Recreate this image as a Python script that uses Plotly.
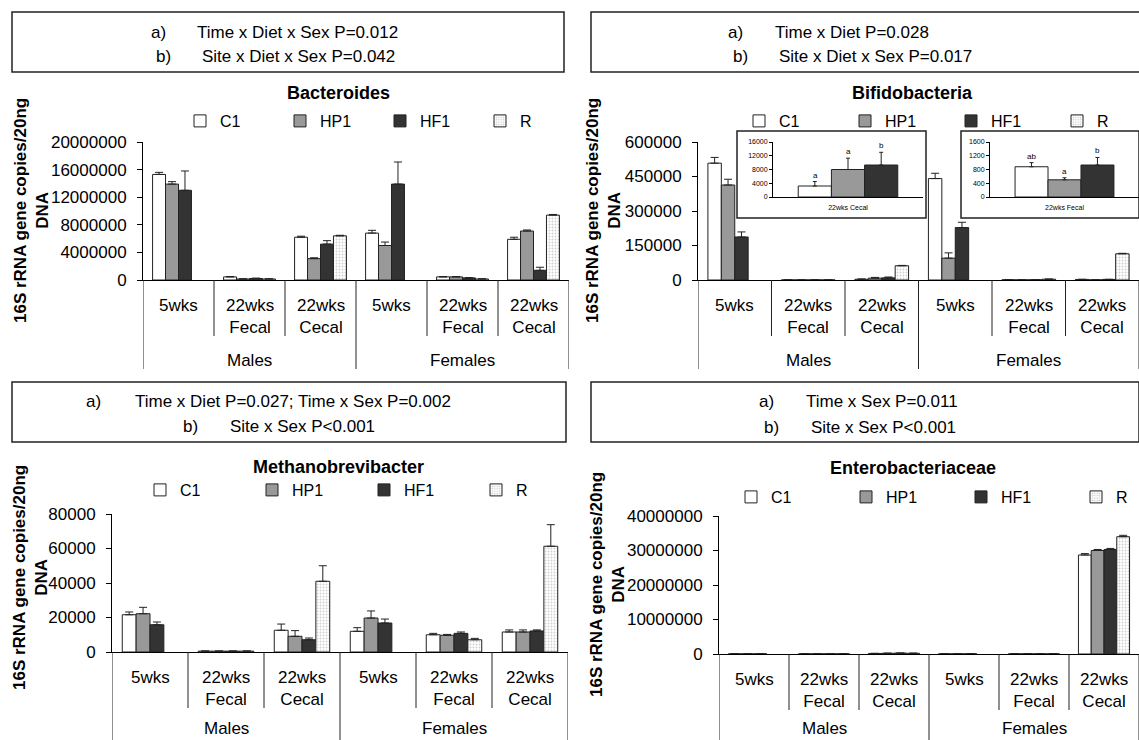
import plotly.graph_objects as go

W, H = 1139, 740
FONT = "Liberation Sans, Arial, sans-serif"

DIETS = ["C1", "HP1", "HF1", "R"]
SITES = ["5wks", "22wks<br>Fecal", "22wks<br>Cecal",
         "5wks", "22wks<br>Fecal", "22wks<br>Cecal"]
SEXES = ["Males", "Females"]

# 16S rRNA gene copies / 20 ng DNA, one value per site (males then females)
bact_c1 = [15300000, 450000, 6200000, 6800000, 450000, 5900000]
bact_hp1 = [13900000, 150000, 3100000, 5000000, 450000, 7100000]
bact_hf1 = [13000000, 220000, 5200000, 13900000, 300000, 1400000]
bact_r = [None, 150000, 6400000, None, 150000, 9400000]
bact_c1_se = [300000, 50000, 150000, 400000, 40000, 300000]
bact_hp1_se = [350000, 20000, 120000, 500000, 40000, 150000]
bact_hf1_se = [2800000, 50000, 500000, 3200000, 40000, 450000]
bact_r_se = [None, 20000, 80000, None, 20000, 100000]
bact_ticks = [0, 4000000, 8000000, 12000000, 16000000, 20000000]

bifi_c1 = [508000, 300, 3200, 441000, 880, 2500]
bifi_hp1 = [413000, 200, 8000, 95000, 500, 300]
bifi_hf1 = [187000, 300, 9300, 228000, 930, 2500]
bifi_r = [None, 300, 62000, None, 3500, 114000]
bifi_c1_se = [25000, 50, 1300, 23000, 120, 500]
bifi_hp1_se = [25000, 50, 3300, 23000, 60, 100]
bifi_hf1_se = [22000, 50, 3700, 23000, 220, 500]
bifi_r_se = [None, 50, 1500, None, 500, 2000]
bifi_ticks = [0, 150000, 300000, 450000, 600000]

meth_c1 = [21600, 500, 12600, 12000, 10000, 11600]
meth_hp1 = [22200, 500, 9100, 19700, 9700, 11600]
meth_hf1 = [15800, 500, 7100, 16800, 10800, 12200]
meth_r = [None, 500, 41000, None, 7100, 61300]
meth_c1_se = [1600, 100, 3600, 2100, 800, 1200]
meth_hp1_se = [3700, 100, 3300, 4100, 500, 1200]
meth_hf1_se = [1600, 100, 1000, 2300, 800, 600]
meth_r_se = [None, 100, 9000, None, 800, 12500]
meth_ticks = [0, 20000, 40000, 60000, 80000]

ent_c1 = [40000, 40000, 150000, 40000, 40000, 28700000]
ent_hp1 = [40000, 40000, 200000, 40000, 40000, 30000000]
ent_hf1 = [40000, 40000, 250000, 40000, 40000, 30300000]
ent_r = [None, 40000, 200000, None, 40000, 34000000]
ent_c1_se = [10000, 10000, 50000, 10000, 10000, 400000]
ent_hp1_se = [10000, 10000, 50000, 10000, 10000, 300000]
ent_hf1_se = [10000, 10000, 50000, 10000, 10000, 300000]
ent_r_se = [None, 10000, 50000, None, 10000, 400000]
ent_ticks = [0, 10000000, 20000000, 30000000, 40000000]

# Insets: Bifidobacteria 22wks cecal (males) and 22wks fecal (females), C1/HP1/HF1
INSET_DIETS = ["C1", "HP1", "HF1"]
inset_cecal_letters = ["a", "a", "b"]
inset_fecal_letters = ["ab", "a", "b"]
inset_cecal_ticks = [0, 4000, 8000, 12000, 16000]
inset_fecal_ticks = [0, 400, 800, 1200, 1600]

STYLE = {
    "C1": dict(color="white"),
    "HP1": dict(color="#999999"),
    "HF1": dict(color="#333333"),
    "R": dict(color="white", pattern=dict(shape=".", fgcolor="#a0a0a0",
                                          bgcolor="white", size=3, solidity=0.3)),
}


def px(x):
    return x / W


def py(y):
    return 1 - y / H


panels = [
    dict(title="Bacteroides",
         series=[bact_c1, bact_hp1, bact_hf1, bact_r],
         errors=[bact_c1_se, bact_hp1_se, bact_hf1_se, bact_r_se],
         ticks=bact_ticks,
         lines=[("a)", "Time x Diet x Sex P=0.012"), ("b)", "Site x Diet x Sex P=0.042")],
         plot=(143, 569, 142, 280), box=(12, 12, 564, 72), line_y=(32, 57),
         line_x=[(168, 195), (173, 200)],
         title_xy=(338, 93), legend=(121, 200, 100), ytitle=(32, 211),
         cat_top=294, short_sep=336, long_sep=369, sex_y=360),
    dict(title="Bifidobacteria",
         series=[bifi_c1, bifi_hp1, bifi_hf1, bifi_r],
         errors=[bifi_c1_se, bifi_hp1_se, bifi_hf1_se, bifi_r_se],
         ticks=bifi_ticks,
         lines=[("a)", "Time x Diet P=0.028"), ("b)", "Site x Diet x Sex P=0.017")],
         plot=(698, 1139, 142, 280), box=(591, 12, 1141, 72), line_y=(32, 57),
         line_x=[(745, 773), (750, 777)],
         title_xy=(912, 93), legend=(121, 759, 106), ytitle=(604, 211),
         cat_top=294, short_sep=336, long_sep=369, sex_y=360),
    dict(title="Methanobrevibacter",
         series=[meth_c1, meth_hp1, meth_hf1, meth_r],
         errors=[meth_c1_se, meth_hp1_se, meth_hf1_se, meth_r_se],
         ticks=meth_ticks,
         lines=[("a)", "Time x Diet P=0.027; Time x Sex P=0.002"), ("b)", "Site x Sex P<0.001")],
         plot=(112, 568, 514, 652), box=(12, 382, 566, 442), line_y=(401, 426),
         line_x=[(103, 133), (200, 228)],
         title_xy=(338, 467), legend=(490, 160, 112), ytitle=(30, 578),
         cat_top=666, short_sep=708, long_sep=740, sex_y=728),
    dict(title="Enterobacteriaceae",
         series=[ent_c1, ent_hp1, ent_hf1, ent_r],
         errors=[ent_c1_se, ent_hp1_se, ent_hf1_se, ent_r_se],
         ticks=ent_ticks,
         lines=[("a)", "Time x Sex P=0.011"), ("b)", "Site x Sex P<0.001")],
         plot=(719, 1139, 516, 654), box=(591, 382, 1139, 442), line_y=(401, 427),
         line_x=[(776, 804), (781, 809)],
         title_xy=(913, 468), legend=(497, 751, 115), ytitle=(607, 585),
         cat_top=668, short_sep=710, long_sep=740, sex_y=728),
]

fig = go.Figure()
layout = {}
annotations = []
shapes = []
OUTLINE = dict(color="#222222", width=1)
positions = list(range(len(SITES)))

for i, p in enumerate(panels, start=1):
    xa = "x" if i == 1 else f"x{i}"
    ya = "y" if i == 1 else f"y{i}"
    xkey = "xaxis" if i == 1 else f"xaxis{i}"
    ykey = "yaxis" if i == 1 else f"yaxis{i}"
    lkey = "legend" if i == 1 else f"legend{i}"
    x0, x1, ytop, ybot = p["plot"]
    ly, first_sq, step = p["legend"]

    for name, vals, errs in zip(DIETS, p["series"], p["errors"]):
        fig.add_trace(go.Bar(
            x=positions, y=vals, name=name, xaxis=xa, yaxis=ya, legend=lkey,
            legendwidth=(step - 45) if name != DIETS[-1] else 20,
            marker=dict(line=OUTLINE, **STYLE[name]),
            error_y=dict(type="data", symmetric=False, array=errs,
                         arrayminus=[0] * len(errs), color="#222222",
                         thickness=1, width=4),
        ))

    layout[xkey] = dict(domain=[px(x0), px(x1)], anchor=ya, range=[-0.5, len(SITES) - 0.5],
                        showline=True, linecolor="black", linewidth=1,
                        showticklabels=False, ticks="", showgrid=False, zeroline=False,
                        fixedrange=True)
    layout[ykey] = dict(domain=[py(ybot), py(ytop)], anchor=xa,
                        range=[0, p["ticks"][-1]], tickvals=p["ticks"],
                        ticktext=[str(t) for t in p["ticks"]],
                        showline=True, linecolor="black", linewidth=1,
                        ticks="outside", ticklen=5, tickcolor="black",
                        ticklabelstandoff=7,
                        tickfont=dict(size=17, family=FONT, color="black"),
                        showgrid=False, zeroline=False, fixedrange=True)
    layout[lkey] = dict(orientation="h", x=px(first_sq - 20), y=py(ly),
                        xanchor="left", yanchor="middle",
                        font=dict(size=16, family=FONT, color="black"),
                        bgcolor="rgba(0,0,0,0)", borderwidth=0,
                        traceorder="normal", itemclick=False, itemdoubleclick=False)

    # statistics box above each panel
    bx0, by0, bx1, by1 = p["box"]
    shapes.append(dict(type="rect", xref="paper", yref="paper",
                       x0=px(bx0), x1=px(bx1), y0=py(by0), y1=py(by1),
                       line=dict(color="#222222", width=1.5), fillcolor="rgba(0,0,0,0)"))
    for (lab, txt), yy, (lx, tx) in zip(p["lines"], p["line_y"], p["line_x"]):
        annotations.append(dict(text=lab, xref="paper", yref="paper", x=px(lx), y=py(yy),
                                xanchor="right", yanchor="middle", showarrow=False,
                                font=dict(size=17, family=FONT, color="black")))
        annotations.append(dict(text=txt, xref="paper", yref="paper", x=px(tx), y=py(yy),
                                xanchor="left", yanchor="middle", showarrow=False,
                                font=dict(size=17, family=FONT, color="black")))

    # panel title and y-axis title
    tx, tyy = p["title_xy"]
    annotations.append(dict(text=f"<b>{p['title']}</b>", xref="paper", yref="paper",
                            x=px(tx), y=py(tyy), xanchor="center", yanchor="middle",
                            showarrow=False, font=dict(size=18, family=FONT, color="black")))
    yx, yy = p["ytitle"]
    annotations.append(dict(text="<b>16S rRNA gene copies/20ng</b><br><b>DNA</b>",
                            xref="paper", yref="paper", x=px(yx), y=py(yy),
                            xanchor="center", yanchor="middle", textangle=-90,
                            showarrow=False, font=dict(size=17, family=FONT, color="black")))

    # category labels under the axis, and sex labels beneath
    for pos, lab in zip(positions, SITES):
        annotations.append(dict(text=lab, xref=xa, yref="paper", x=pos, y=py(p["cat_top"]),
                                xanchor="center", yanchor="top", showarrow=False,
                                font=dict(size=17, family=FONT, color="black")))
    half = len(SITES) // 2
    for k, sex in enumerate(SEXES):
        annotations.append(dict(text=sex, xref=xa, yref="paper",
                                x=(half - 1) / 2 + k * half, y=py(p["sex_y"]),
                                xanchor="center", yanchor="middle", showarrow=False,
                                font=dict(size=17, family=FONT, color="black")))
    for b in range(len(SITES) + 1):
        edge = b - 0.5
        long_line = b % half == 0
        shapes.append(dict(type="line", xref=xa, yref="paper", x0=edge, x1=edge,
                           y0=py(ybot), y1=py(p["long_sep"] if long_line else p["short_sep"]),
                           line=dict(color="#222222", width=1)))

# insets on the Bifidobacteria panel
insets = [
    dict(idx=2, label="22wks Cecal", letters=inset_cecal_letters, ticks=inset_cecal_ticks,
         plot=(773, 923, 142, 197), box=(737, 131, 926, 218)),
    dict(idx=4, label="22wks Fecal", letters=inset_fecal_letters, ticks=inset_fecal_ticks,
         plot=(990, 1139, 142, 197), box=(961, 131, 1139, 218)),
]
bifi_series = {"C1": (bifi_c1, bifi_c1_se), "HP1": (bifi_hp1, bifi_hp1_se),
               "HF1": (bifi_hf1, bifi_hf1_se)}
for j, ins in enumerate(insets, start=5):
    xa, ya = f"x{j}", f"y{j}"
    x0, x1, ytop, ybot = ins["plot"]
    bx0, by0, bx1, by1 = ins["box"]
    shapes.append(dict(type="rect", xref="paper", yref="paper", layer="below",
                       x0=px(bx0), x1=px(bx1), y0=py(by0), y1=py(by1),
                       line=dict(color="#222222", width=1.5), fillcolor="white"))
    for name, letter in zip(INSET_DIETS, ins["letters"]):
        vals, errs = bifi_series[name]
        v, e = vals[ins["idx"]], errs[ins["idx"]]
        fig.add_trace(go.Bar(
            x=[ins["label"]], y=[v], name=name, xaxis=xa, yaxis=ya, showlegend=False,
            marker=dict(line=OUTLINE, **STYLE[name]),
            error_y=dict(type="data", symmetric=False, array=[e], arrayminus=[0],
                         color="#222222", thickness=1, width=2),
        ))
    layout[f"xaxis{j}"] = dict(domain=[px(x0), px(x1)], anchor=ya, type="category",
                               range=[-0.55, 0.55], showline=True, linecolor="black",
                               ticks="", ticklabelstandoff=4,
                               tickfont=dict(size=7, family=FONT, color="black"),
                               showgrid=False, zeroline=False, fixedrange=True)
    layout[f"yaxis{j}"] = dict(domain=[py(ybot), py(ytop)], anchor=xa,
                               range=[0, ins["ticks"][-1]], tickvals=ins["ticks"],
                               ticktext=[str(t) for t in ins["ticks"]],
                               showline=True, linecolor="black", ticks="outside",
                               ticklen=3, tickcolor="black",
                               tickfont=dict(size=7, family=FONT, color="black"),
                               showgrid=False, zeroline=False, fixedrange=True)

# significance letters sit just above each inset error bar
for j, ins in enumerate(insets, start=5):
    n = len(INSET_DIETS)
    for k, (name, letter) in enumerate(zip(INSET_DIETS, ins["letters"])):
        vals, errs = bifi_series[name]
        top = vals[ins["idx"]] + errs[ins["idx"]]
        annotations.append(dict(text=letter, xref=f"x{j}", yref=f"y{j}",
                                x=ins["label"], xshift=(k - (n - 1) / 2) * 33,
                                y=top, yanchor="bottom", showarrow=False,
                                font=dict(size=8, family=FONT, color="black")))

fig.update_layout(
    width=W, height=H, margin=dict(l=0, r=0, t=0, b=0, autoexpand=False),
    paper_bgcolor="white", plot_bgcolor="rgba(0,0,0,0)",
    barmode="group", bargap=0.27, bargroupgap=0,
    font=dict(family=FONT, color="black"),
    annotations=annotations, shapes=shapes,
    **layout,
)

fig.write_html("out.html")
